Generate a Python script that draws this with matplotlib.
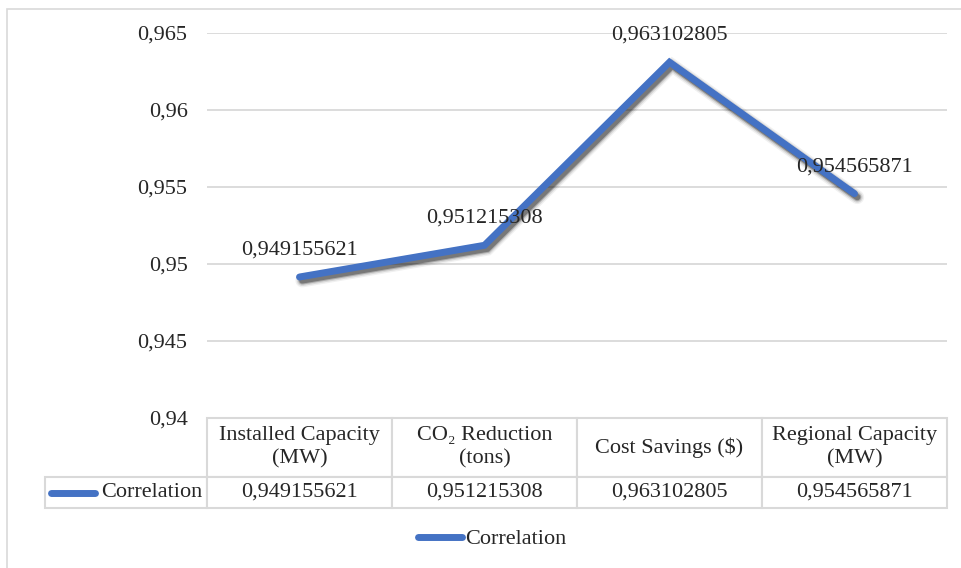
import matplotlib
matplotlib.use('Agg')
import matplotlib.pyplot as plt
import matplotlib.patheffects as pe
from matplotlib.lines import Line2D
from matplotlib.patches import Rectangle

plt.rcParams['font.family'] = ['Liberation Serif', 'DejaVu Serif']

categories = ['Installed Capacity\n(MW)', 'CO\u2082 Reduction\n(tons)', 'Cost Savings ($)', 'Regional Capacity\n(MW)']
correlation = [0.949155621, 0.951215308, 0.963102805, 0.954565871]
series_name = 'Correlation'
y_ticks = [0.94, 0.945, 0.95, 0.955, 0.96, 0.965]

def comma(v):
    return str(round(v, 9)).replace('.', ',')

blue = '#4472C4'
grid = '#d9d9d9'
fs = 16

fig = plt.figure(figsize=(9.62, 5.68), dpi=100)
# outer chart border
fig.patches.append(Rectangle((7 / 962, -0.1), 1.2, 1 - 9 / 568 + 0.1, transform=fig.transFigure,
                             fill=False, edgecolor=grid, linewidth=1.2))
ax = fig.add_axes([207 / 962, 1 - 418 / 568, 740 / 962, 385 / 568])

x = list(range(len(categories)))
shadow = [pe.SimpleLineShadow(offset=(2, -2.5), shadow_color='black', alpha=a, linewidth=lw)
          for lw, a in [(10, 0.06), (8, 0.1), (6, 0.2), (4.5, 0.3)]]
ax.plot(x, correlation, color=blue, linewidth=5, solid_capstyle='round', solid_joinstyle='miter',
        path_effects=shadow + [pe.Normal()], zorder=3)
for xi, v in zip(x, correlation):
    ax.annotate(comma(v), (xi, v), xytext=(0, 19.5), textcoords='offset points',
                ha='center', va='center', fontsize=fs, color='#262626', zorder=4)

ax.set_xlim(-0.5, len(categories) - 0.5)
ax.set_ylim(0.94, 0.965)
ax.set_yticks(y_ticks)
ax.set_yticklabels([comma(t) for t in y_ticks], fontsize=fs, color='#262626')
ax.tick_params(axis='y', length=0, pad=14)
ax.set_xticks([])
ax.grid(axis='y', color=grid, linewidth=1.3)
ax.set_axisbelow(True)
for s in ax.spines.values():
    s.set_visible(False)

# data table
w0 = 162 / 740
tab = ax.table(cellText=[[''] + categories, [series_name] + [comma(v) for v in correlation]],
               cellLoc='center', bbox=[-w0, -90 / 385, 1 + w0, 90 / 385])
tab.auto_set_font_size(False)
for (r, c), cell in tab.get_celld().items():
    cell.set_width(w0 if c == 0 else 0.25)
    cell.set_height(59 if r == 0 else 31)
    cell.set_edgecolor(grid)
    cell.set_linewidth(1.5)
    cell.get_text().set_fontsize(fs)
    cell.get_text().set_color('#262626')
    cell.get_text().set_linespacing(1.3)
    if r == 0 and c == 0:
        cell.visible_edges = ''
    if r == 1 and c == 0:
        cell.get_text().set_ha('right')
        cell.PAD = 0.03
ax.plot([-0.5 - w0 * 4 + 0.03, -0.5 - w0 * 4 + 0.27], [0.94 - 75 / 15400] * 2,
        color=blue, linewidth=5, solid_capstyle='round', clip_on=False)

handle = Line2D([], [], color=blue, linewidth=5, solid_capstyle='round')
fig.legend([handle], [series_name], loc='center', bbox_to_anchor=(492 / 962, 1 - 539 / 568),
           frameon=False, fontsize=fs, handlelength=2.0, handletextpad=0.1, labelcolor='#262626')

fig.savefig('out.png', dpi=100)
